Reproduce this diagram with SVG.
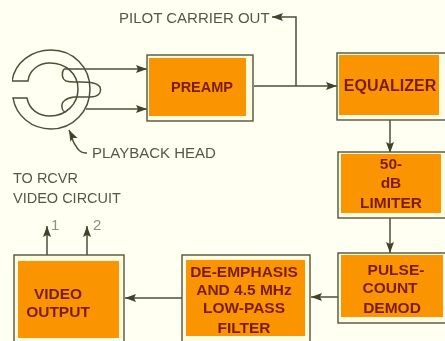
<svg xmlns="http://www.w3.org/2000/svg" width="445" height="341" viewBox="0 0 445 341">
<defs>
<marker id="a" markerUnits="userSpaceOnUse" markerWidth="12" markerHeight="10" refX="11" refY="5" orient="auto"><path d="M0 1L11 5L0 9L2 5Z" fill="#3f4229"/></marker>
<filter id="s" x="0" y="0" width="100%" height="100%"><feGaussianBlur stdDeviation="0.45"/></filter>
</defs>
<style>
.b{fill:#fffbe0;stroke:#55553c;stroke-width:1.4}
.o{fill:#fa9406}
.t{font-family:"Liberation Sans",sans-serif;font-weight:700;font-size:15.5px;fill:#7a1e0a;text-anchor:middle}
.l{font-family:"Liberation Sans",sans-serif;font-size:15px;fill:#55574a}
.n{font-family:"Liberation Sans",sans-serif;font-size:15px;fill:#8d8d80}
.c{fill:none;stroke:#4d5038;stroke-width:1.5}
</style>
<rect width="445" height="341" fill="#fffff2"/>
<g filter="url(#s)">
<g id="connectors" class="c">
<path d="M64 69H147" marker-end="url(#a)"/>
<path d="M86 109H147" marker-end="url(#a)"/>
<path d="M254 86H337" marker-end="url(#a)"/>
<path d="M296 86V17H272" marker-end="url(#a)"/>
<path d="M390 120V153" marker-end="url(#a)"/>
<path d="M390 218V253" marker-end="url(#a)"/>
<path d="M338 297H311" marker-end="url(#a)"/>
<path d="M182 298H125" marker-end="url(#a)"/>
<path d="M47 255V226" marker-end="url(#a)"/>
<path d="M87 255V226" marker-end="url(#a)"/>
<path d="M87 153C79 154 76 146 74 143C72 139 71 134 69 130" marker-end="url(#a)"/>
</g>
<g id="head" class="c">
<path d="M12 81H28C29 71 38 63 50 63C66 63 78 74 78 89C78 104 66 116 50 116C38 116 29 109 27 98H13C16 116 32 129 51 129C73 129 90 111 90 89C90 67 73 50 51 50C32 50 15 62 12 81Z"/>
<path d="M64 69C61 73 62 79 66 81C69 82 72 82 75 82C83 82 96 81 100 87C102 93 98 97 90 97H74C66 98 61 102 62 107C62 110 64 112 66 112"/>
</g>
<g id="preamp"><rect class="b" x="147" y="55" width="106" height="66"/><rect class="o" x="149" y="58" width="97" height="58"/><text class="t" x="202" y="92" style="font-size:14.5px">PREAMP</text></g>
<g id="equalizer"><rect class="b" x="337" y="53" width="109" height="67"/><rect class="o" x="339" y="55" width="100" height="60"/><text class="t" x="390" y="91" style="font-size:16px">EQUALIZER</text></g>
<g id="limiter"><rect class="b" x="338" y="152" width="108" height="66"/><rect class="o" x="341" y="154" width="100" height="59"/><text class="t" x="391" y="169">50-</text><text class="t" x="391" y="188">dB</text><text class="t" x="391" y="208">LIMITER</text></g>
<g id="demod"><rect class="b" x="338" y="253" width="108" height="70"/><rect class="o" x="341" y="255" width="102" height="62"/><text class="t" x="396" y="275">PULSE-</text><text class="t" x="390" y="293">COUNT</text><text class="t" x="392" y="313">DEMOD</text></g>
<g id="filter"><rect class="b" x="182" y="255" width="128" height="88"/><rect class="o" x="186" y="260" width="119" height="76"/><text class="t" x="244" y="277">DE-EMPHASIS</text><text class="t" x="244" y="295">AND 4.5 MHz</text><text class="t" x="244" y="313">LOW-PASS</text><text class="t" x="244" y="333">FILTER</text></g>
<g id="video"><rect class="b" x="14" y="255" width="110" height="88"/><rect class="o" x="18" y="261" width="101" height="77"/><text class="t" x="58" y="299">VIDEO</text><text class="t" x="58" y="317">OUTPUT</text></g>
<g id="labels">
<text class="l" x="119" y="23">PILOT CARRIER OUT</text>
<text class="l" x="92" y="158">PLAYBACK HEAD</text>
<text class="l" x="13" y="183" style="font-size:14.5px">TO RCVR</text>
<text class="l" x="13" y="203" style="font-size:14.5px">VIDEO CIRCUIT</text>
<text class="n" x="51" y="230">1</text>
<text class="n" x="93" y="230">2</text>
</g>
</g>
</svg>
